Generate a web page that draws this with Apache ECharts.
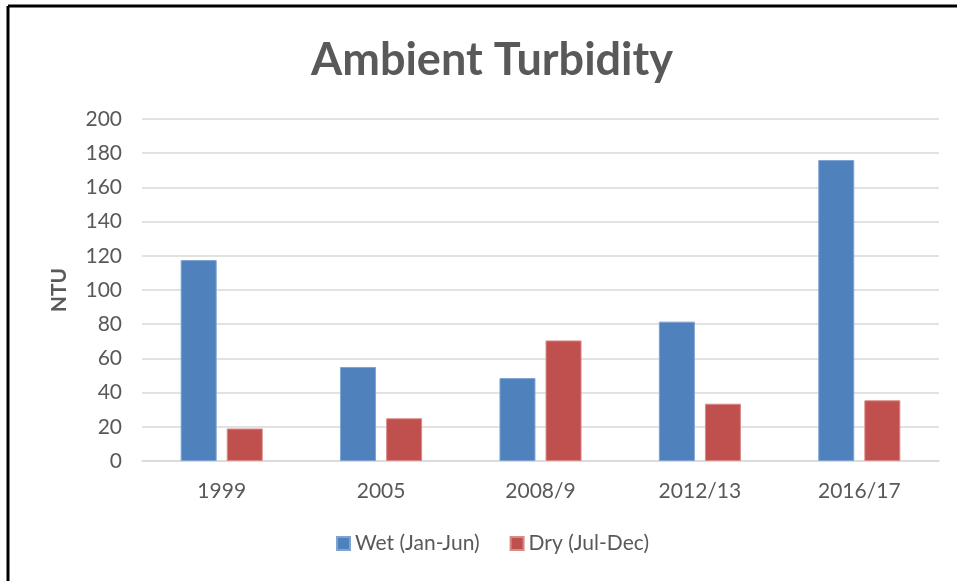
<!DOCTYPE html>
<html>
<head>
<meta charset="utf-8">
<script src="https://cdn.jsdelivr.net/npm/echarts@6/dist/echarts.min.js"></script>
<style>
html,body{margin:0;padding:0;background:#fff;}
#chart{width:957px;height:581px;}
</style>
</head>
<body>
<div id="chart"></div>
<script>
const categories = ['1999', '2005', '2008/9', '2012/13', '2016/17'];
const wetValues = [117.5, 55, 48.5, 81.5, 176];
const dryValues = [19, 25, 70.5, 33.5, 35.5];
const seriesNames = ['Wet (Jan-Jun)', 'Dry (Jul-Dec)'];
const yTicks = { min: 0, max: 200, interval: 20 };

const chart = echarts.init(document.getElementById('chart'));
const textColor = '#595959';
const font = 'Lato, "Open Sans", sans-serif';
chart.setOption({
  animation: false,
  backgroundColor: '#fff',
  title: {
    text: 'Ambient Turbidity',
    left: 306,
    top: 33,
    textStyle: { fontFamily: font, fontWeight: 'bold', fontSize: 45, color: textColor }
  },
  graphic: [
    { type: 'line', shape: { x1: 8, y1: 6, x2: 957, y2: 6 }, style: { stroke: '#000', lineWidth: 3 } },
    { type: 'line', shape: { x1: 8, y1: 6, x2: 8, y2: 581 }, style: { stroke: '#000', lineWidth: 3 } }
  ],
  legend: {
    data: seriesNames,
    bottom: 22,
    left: 331,
    itemWidth: 13,
    itemHeight: 13,
    itemGap: 30,
    icon: 'rect',
    textStyle: { fontFamily: font, fontSize: 21, color: textColor }
  },
  grid: { left: 142, right: 18, top: 119, bottom: 120 },
  xAxis: {
    type: 'category',
    data: categories,
    axisLine: { lineStyle: { color: '#d9d9d9', width: 1.5 } },
    axisTick: { show: false },
    axisLabel: { fontFamily: font, fontSize: 21, color: textColor, margin: 20 }
  },
  yAxis: {
    type: 'value',
    min: yTicks.min,
    max: yTicks.max,
    interval: yTicks.interval,
    name: 'NTU',
    nameLocation: 'middle',
    nameGap: 72,
    nameRotate: 90,
    nameTextStyle: { fontFamily: font, fontSize: 21, fontWeight: 'bold', color: textColor },
    axisLine: { show: false },
    axisTick: { show: false },
    axisLabel: { fontFamily: font, fontSize: 21, color: textColor, margin: 20 },
    splitLine: { lineStyle: { color: '#d9d9d9', width: 1.5 } }
  },
  series: [
    {
      name: seriesNames[0], type: 'bar', data: wetValues,
      barWidth: 36, barGap: '28%',
      itemStyle: { color: '#4F81BD', borderColor: '#7fa3d3', borderWidth: 1 }
    },
    {
      name: seriesNames[1], type: 'bar', data: dryValues,
      barWidth: 36, barGap: '28%',
      itemStyle: { color: '#C0504D', borderColor: '#d88a88', borderWidth: 1 }
    }
  ]
});
</script>
</body>
</html>
